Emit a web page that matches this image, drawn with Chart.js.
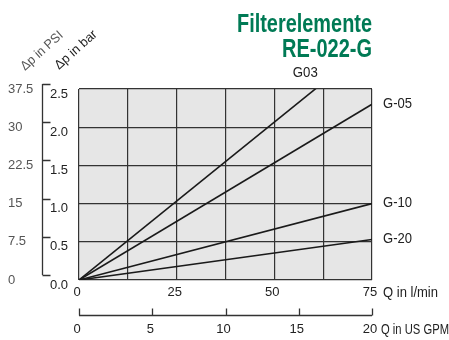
<!DOCTYPE html>
<html>
<head>
<meta charset="utf-8">
<title>Filterelemente RE-022-G</title>
<script src="https://cdn.jsdelivr.net/npm/chart.js@4"></script>
<style>
  body { margin: 0; background: #fff; }
  canvas { display: block; }
</style>
</head>
<body>
<canvas id="my-chart" width="449" height="340"></canvas>
<script>
// flow (l/min) and pressure drop (bar)
const flowLpm = [0, 75];
const dpG03 = [0, 3.1];
const dpG05 = [0, 2.3];
const dpG10 = [0, 1.0];
const dpG20 = [0, 0.53];
const seriesNames = ['G03', 'G-05', 'G-10', 'G-20'];

// axis ticks
const barTicks = [0, 0.5, 1.0, 1.5, 2.0, 2.5];
const psiTicks = [0, 7.5, 15, 22.5, 30, 37.5];
const gridLpm = [0, 12.5, 25, 37.5, 50, 62.5, 75];
const lpmTicks = [0, 25, 50, 75];
const gpmTicks = [0, 5, 10, 15, 20];

const fontFamily = "'Liberation Sans', Arial, sans-serif";
Chart.defaults.font.family = fontFamily;
Chart.defaults.font.size = 13;

const toTicks = arr => s => { s.ticks = arr.map(v => ({ value: v })); };

function makeSet(name, values) {
  return {
    label: name,
    data: flowLpm.map((q, i) => ({ x: q, y: values[i] })),
    showLine: true,
    borderColor: '#1a1a1a',
    borderWidth: 1.6,
    pointRadius: 0,
    xAxisID: 'x',
    yAxisID: 'y'
  };
}

const extras = {
  id: 'extras',
  beforeDraw(chart) {
    const { ctx, chartArea: a } = chart;
    ctx.save();
    ctx.fillStyle = '#e6e6e6';
    ctx.fillRect(a.left, a.top, a.right - a.left, a.bottom - a.top);
    ctx.restore();
  },
  afterDraw(chart) {
    const { ctx, chartArea: a, scales } = chart;
    const y = scales.y, x = scales.x, psi = scales.psi, x2 = scales.x2;
    ctx.save();

    // title
    ctx.fillStyle = '#007a55';
    ctx.font = 'bold 26px ' + fontFamily;
    ctx.textAlign = 'right';
    ctx.textBaseline = 'alphabetic';
    ctx.fillText('Filterelemente', a.right, 32, 135);
    ctx.fillText('RE-022-G', a.right, 57, 90);

    ctx.strokeStyle = '#333';
    ctx.lineWidth = 1.3;

    // left bracket (PSI / bar)
    const bx = Math.round(psi.right) + 0.5;
    ctx.beginPath();
    ctx.moveTo(bx, y.getPixelForValue(2.5) - 5);
    ctx.lineTo(bx, y.getPixelForValue(0) - 5);
    barTicks.forEach(v => {
      const py = Math.round(y.getPixelForValue(v) - 5) + 0.5;
      ctx.moveTo(bx, py);
      ctx.lineTo(bx + 8, py);
    });
    ctx.stroke();

    // bottom bracket (US GPM)
    const by = Math.round(x2.top + 13) + 0.5;
    ctx.beginPath();
    ctx.moveTo(x2.getPixelForValue(0), by);
    ctx.lineTo(x2.getPixelForValue(20), by);
    gpmTicks.forEach(v => {
      const px = Math.round(x2.getPixelForValue(v)) + 0.5;
      ctx.moveTo(px, by);
      ctx.lineTo(px, by - 7);
    });
    ctx.stroke();

    // series labels
    ctx.fillStyle = '#222';
    ctx.font = '14px ' + fontFamily;
    ctx.textBaseline = 'middle';
    ctx.textAlign = 'left';
    [dpG05, dpG10, dpG20].forEach((vals, i) => {
      ctx.fillText(seriesNames[i + 1], a.right + 11, y.getPixelForValue(vals[vals.length - 1]), 29);
    });
    const exitQ = flowLpm[1] * 2.5 / dpG03[1];
    ctx.textAlign = 'center';
    ctx.fillText(seriesNames[0], x.getPixelForValue(exitQ) - 10, a.top - 16, 25);

    // axis titles
    ctx.textAlign = 'left';
    ctx.fillText('Q in l/min', a.right + 11, x.top + 13, 55);
    ctx.fillText('Q in US GPM', a.right + 9, x2.top + 28, 68);

    ctx.font = '13px ' + fontFamily;
    ctx.textAlign = 'center';
    ctx.fillStyle = '#555';
    ctx.save();
    ctx.translate(42, 51);
    ctx.rotate(-42 * Math.PI / 180);
    ctx.fillText('\u0394p in PSI', 0, 0, 52);
    ctx.restore();
    ctx.fillStyle = '#222';
    ctx.save();
    ctx.translate(76, 50);
    ctx.rotate(-42 * Math.PI / 180);
    ctx.fillText('\u0394p in bar', 0, 0, 52);
    ctx.restore();
    ctx.restore();
  }
};

const ctx = document.getElementById('my-chart').getContext('2d');
const chart = new Chart(ctx, {
  type: 'scatter',
  data: {
    datasets: [
      makeSet(seriesNames[0], dpG03),
      makeSet(seriesNames[1], dpG05),
      makeSet(seriesNames[2], dpG10),
      makeSet(seriesNames[3], dpG20)
    ]
  },
  options: {
    responsive: false,
    animation: false,
    layout: { padding: { left: 8, right: 77, top: 89, bottom: 0 } },
    plugins: {
      legend: { display: false },
      tooltip: { enabled: false },
      title: { display: false }
    },
    scales: {
      x: {
        type: 'linear', position: 'bottom', min: 0, max: 75,
        afterBuildTicks: toTicks(gridLpm),
        ticks: { callback: v => lpmTicks.includes(v) ? String(v) : '', padding: 5, labelOffset: -2, color: '#222', maxRotation: 0, autoSkip: false },
        grid: { color: '#333', lineWidth: 1.2, drawTicks: false },
        border: { display: false },
        afterFit: s => { s.height = 22; }
      },
      x2: {
        type: 'linear', position: 'bottom', weight: 1, min: 0, max: 20,
        afterBuildTicks: toTicks(gpmTicks),
        ticks: { padding: 20, labelOffset: -2, color: '#222', maxRotation: 0, autoSkip: false },
        grid: { display: false, drawTicks: false },
        border: { display: false },
        afterFit: s => { s.height = 38; }
      },
      y: {
        position: 'left', min: 0, max: 2.5,
        afterBuildTicks: toTicks(barTicks),
        ticks: { callback: v => v.toFixed(1), padding: 11, labelOffset: 5, color: '#222' },
        grid: { color: '#333', lineWidth: 1.2, drawTicks: false },
        border: { display: false },
        afterFit: s => { s.width = 37; }
      },
      psi: {
        position: 'left', weight: 1, min: 0, max: 37.5,
        afterBuildTicks: toTicks(psiTicks),
        ticks: { crossAlign: 'far', color: '#555' },
        grid: { display: false, drawTicks: false },
        border: { display: false },
        afterFit: s => { s.width = 34; }
      }
    }
  },
  plugins: [extras]
});
</script>
</body>
</html>
